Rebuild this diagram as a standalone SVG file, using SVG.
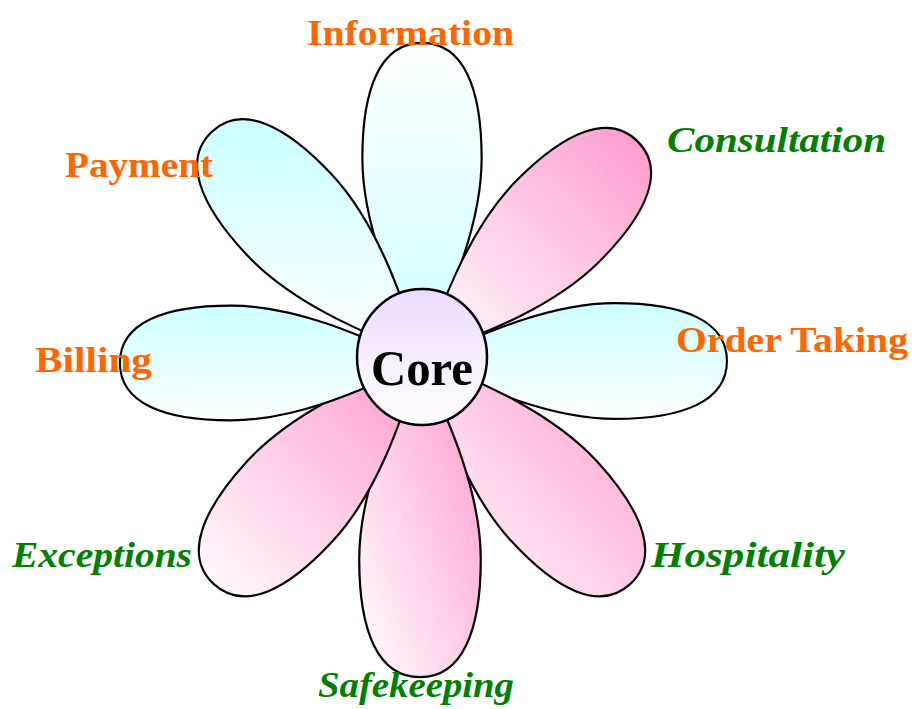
<svg xmlns="http://www.w3.org/2000/svg" width="912" height="709" viewBox="0 0 912 709">
  <defs>
    <path id="petalShape" d="M0,0 C-26,-58 -60,-130 -60,-200 C-60,-270 -42,-316 0,-316 C42,-316 60,-270 60,-200 C60,-130 26,-58 0,0 Z"/>
    <linearGradient id="gInfo" gradientUnits="userSpaceOnUse" x1="0" y1="42" x2="0" y2="357" gradientTransform="scale(1.006) translate(-422,-357)">
      <stop offset="0" stop-color="#ffffff"/>
      <stop offset="1" stop-color="#ccffff"/>
    </linearGradient>
    <linearGradient id="gCons" gradientUnits="userSpaceOnUse" x1="652" y1="125" x2="420" y2="355" gradientTransform="scale(1.036) rotate(-45) translate(-422,-357)">
      <stop offset="0" stop-color="#ff99cc"/>
      <stop offset="1" stop-color="#ffffff"/>
    </linearGradient>
    <linearGradient id="gOrder" gradientUnits="userSpaceOnUse" x1="0" y1="301" x2="0" y2="421" gradientTransform="scale(1.036) rotate(-90) translate(-422,-361)">
      <stop offset="0" stop-color="#ccffff"/>
      <stop offset="1" stop-color="#ffffff"/>
    </linearGradient>
    <linearGradient id="gHosp" gradientUnits="userSpaceOnUse" x1="646" y1="357" x2="404.7" y2="580.2" gradientTransform="scale(1.026) rotate(-137.5) translate(-422,-357)">
      <stop offset="0" stop-color="#ff99cc"/>
      <stop offset="1" stop-color="#ffffff"/>
    </linearGradient>
    <linearGradient id="gSafe" gradientUnits="userSpaceOnUse" x1="478" y1="357" x2="268" y2="436" gradientTransform="scale(0.987) rotate(-180) translate(-420,-357)">
      <stop offset="0" stop-color="#ff99cc"/>
      <stop offset="1" stop-color="#ffffff"/>
    </linearGradient>
    <linearGradient id="gExc" gradientUnits="userSpaceOnUse" x1="422" y1="357" x2="180.4" y2="584.7" gradientTransform="scale(1.026) rotate(-222.5) translate(-422,-357)">
      <stop offset="0" stop-color="#ff99cc"/>
      <stop offset="1" stop-color="#ffffff"/>
    </linearGradient>
    <linearGradient id="gBill" gradientUnits="userSpaceOnUse" x1="0" y1="303" x2="0" y2="423" gradientTransform="scale(1.046) rotate(-270) translate(-422,-363)">
      <stop offset="0" stop-color="#ccffff"/>
      <stop offset="1" stop-color="#ffffff"/>
    </linearGradient>
    <linearGradient id="gPay" gradientUnits="userSpaceOnUse" x1="0" y1="124" x2="0" y2="357" gradientTransform="scale(1.026) rotate(43) translate(-422,-357)">
      <stop offset="0" stop-color="#ccffff"/>
      <stop offset="1" stop-color="#ffffff"/>
    </linearGradient>
    <linearGradient id="coreFill" x1="0" y1="0" x2="0" y2="1">
      <stop offset="0" stop-color="#ebdcff"/>
      <stop offset="1" stop-color="#ffffff"/>
    </linearGradient>
    <style>
      .petal { stroke: #000000; stroke-width: 2.2; stroke-linejoin: round; }
      .orange { font-family: "Liberation Serif", "Times New Roman", serif; font-weight: bold; font-size: 36px; fill: #ff6600; }
      .green { font-family: "Liberation Serif", "Times New Roman", serif; font-weight: bold; font-style: italic; font-size: 36px; fill: #008000; }
      .core { font-family: "Liberation Serif", "Times New Roman", serif; font-weight: bold; font-size: 50px; fill: #000000; }
    </style>
  </defs>

  <g id="connectors"/>

  <g id="petal-information">
    <use href="#petalShape" class="petal" fill="url(#gInfo)" transform="translate(422,357) scale(0.994)"/>
    <text class="orange" x="307" y="45" textLength="207" lengthAdjust="spacingAndGlyphs">Information</text>
  </g>

  <g id="petal-consultation">
    <use href="#petalShape" class="petal" fill="url(#gCons)" transform="translate(422,357) rotate(45) scale(0.965)"/>
    <text class="green" x="667" y="152" textLength="219" lengthAdjust="spacingAndGlyphs">Consultation</text>
  </g>

  <g id="petal-order-taking">
    <use href="#petalShape" class="petal" fill="url(#gOrder)" transform="translate(422,361) rotate(90) scale(0.965)"/>
    <text class="orange" x="676" y="352" textLength="232" lengthAdjust="spacingAndGlyphs">Order Taking</text>
  </g>

  <g id="petal-hospitality">
    <use href="#petalShape" class="petal" fill="url(#gHosp)" transform="translate(422,357) rotate(137.5) scale(0.975)"/>
    <text class="green" x="651" y="567" textLength="194" lengthAdjust="spacingAndGlyphs">Hospitality</text>
  </g>

  <g id="petal-safekeeping">
    <use href="#petalShape" class="petal" fill="url(#gSafe)" transform="translate(420,357) rotate(180) scale(1.013)"/>
    <text class="green" x="318" y="697" textLength="196" lengthAdjust="spacingAndGlyphs">Safekeeping</text>
  </g>

  <g id="petal-exceptions">
    <use href="#petalShape" class="petal" fill="url(#gExc)" transform="translate(422,357) rotate(222.5) scale(0.975)"/>
    <text class="green" x="12" y="567" textLength="180" lengthAdjust="spacingAndGlyphs">Exceptions</text>
  </g>

  <g id="petal-billing">
    <use href="#petalShape" class="petal" fill="url(#gBill)" transform="translate(422,363) rotate(270) scale(0.956)"/>
    <text class="orange" x="35" y="372" textLength="117" lengthAdjust="spacingAndGlyphs">Billing</text>
  </g>

  <g id="petal-payment">
    <use href="#petalShape" class="petal" fill="url(#gPay)" transform="translate(422,357) rotate(-43) scale(0.975)"/>
    <text class="orange" x="65" y="177" textLength="148" lengthAdjust="spacingAndGlyphs">Payment</text>
  </g>

  <g id="core">
    <ellipse cx="422" cy="357" rx="65" ry="68" fill="url(#coreFill)" stroke="#000000" stroke-width="2.5"/>
    <text class="core" x="371" y="385" textLength="102" lengthAdjust="spacingAndGlyphs">Core</text>
  </g>
</svg>
